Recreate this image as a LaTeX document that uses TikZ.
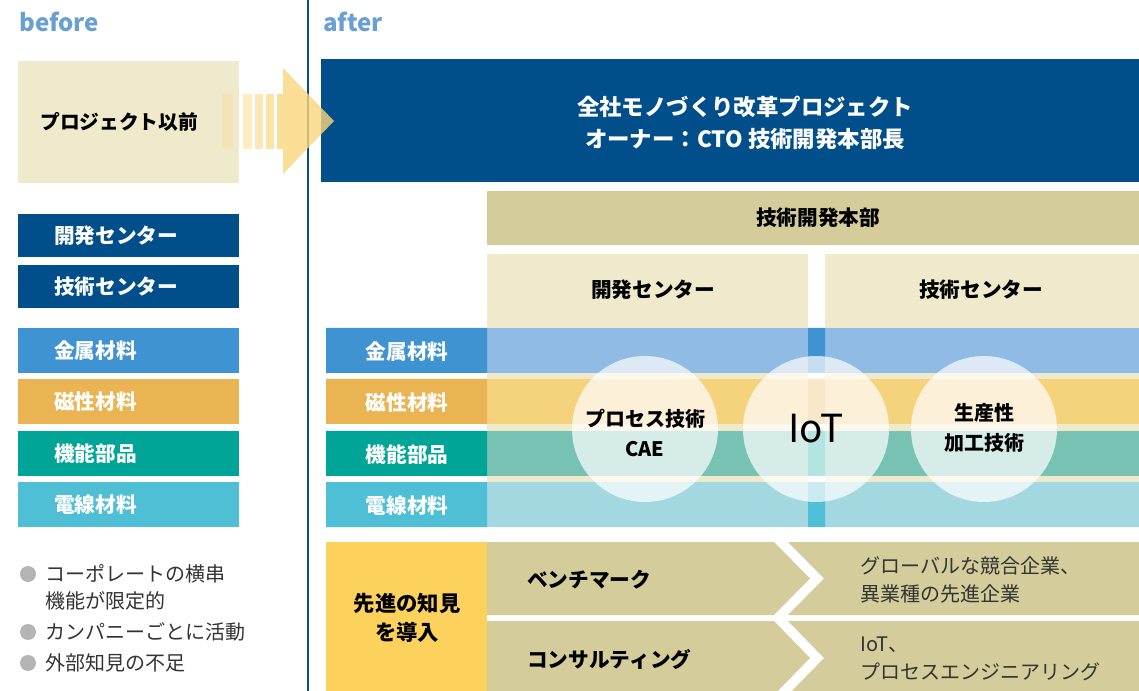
\documentclass[tikz,border=0pt]{standalone}
\usepackage{fontspec}
\setmainfont{Noto Sans CJK JP}
\definecolor{dblue}{HTML}{004F8A}
\definecolor{lblue}{HTML}{6A9FD4}
\definecolor{beige}{HTML}{F0EACC}
\definecolor{tan}{HTML}{D4CC9A}
\definecolor{yel}{HTML}{FCD25C}
\definecolor{arr}{HTML}{FAD67A}
\definecolor{metL}{HTML}{3F93D3}
\definecolor{metB}{HTML}{8FBBE4}
\definecolor{magL}{HTML}{EAB452}
\definecolor{magB}{HTML}{F5D37D}
\definecolor{funL}{HTML}{00A597}
\definecolor{funB}{HTML}{78C2B4}
\definecolor{wirL}{HTML}{4EBFD5}
\definecolor{wirB}{HTML}{A3D8E1}
\definecolor{bul}{HTML}{B4B4B4}
\definecolor{txt}{HTML}{333333}
\tikzset{
  hdr/.style={text=lblue, font=\bfseries\fontsize{18}{22}\selectfont, anchor=west, inner sep=0pt},
  lab/.style={text=white, font=\bfseries\fontsize{15.5}{20}\selectfont, inner sep=0pt},
  blk/.style={text=black, font=\bfseries\fontsize{15.5}{22}\selectfont, inner sep=0pt, align=center},
  thin/.style={text=txt, font=\fontsize{15}{21}\selectfont, inner sep=0pt, anchor=west, align=left},
  circ/.style={fill=white, fill opacity=0.7},
}
\begin{document}
\begin{tikzpicture}[x=0.75pt,y=-0.75pt]
\useasboundingbox (0,0) rectangle (1139,691);
\clip (0,0) rectangle (1139,691);
% headers
\node[hdr] (before) at (19,22) {before};
\node[hdr] (after) at (323,22) {after};
% before box
\fill[beige] (18,61) rectangle (239,183);
\node[blk, anchor=west, font=\bfseries\fontsize{14.8}{20}\selectfont] (pre) at (40,122) {プロジェクト以前};
% left column
\fill[dblue] (18,214) rectangle (239,257);
\node[lab, anchor=west] (ldev) at (54,236) {開発センター};
\fill[dblue] (18,265) rectangle (239,308);
\node[lab, anchor=west] (ltec) at (54,287) {技術センター};
\fill[metL] (18,328) rectangle (239,373);
\node[lab, anchor=west] (lmet) at (54,351) {金属材料};
\fill[magL] (18,379) rectangle (239,424);
\node[lab, anchor=west] (lmag) at (54,402) {磁性材料};
\fill[funL] (18,431) rectangle (239,476);
\node[lab, anchor=west] (lfun) at (54,454) {機能部品};
\fill[wirL] (18,482) rectangle (239,527);
\node[lab, anchor=west] (lwir) at (54,505) {電線材料};
% bullets
\fill[bul] (28,574) circle (6pt);
\node[thin] (b1) at (45,574) {コーポレートの横串};
\node[thin] (b1b) at (45,601) {機能が限定的};
\fill[bul] (28,632) circle (6pt);
\node[thin] (b2) at (45,632) {カンパニーごとに活動};
\fill[bul] (28,663) circle (6pt);
\node[thin] (b3) at (45,663) {外部知見の不足};
% divider
\draw[dblue, line width=1.6pt] (308,0) -- (308,691);
% top blue box
\fill[dblue] (321,59) rectangle (1139,182);
\node[text=white, font=\bfseries\fontsize{16.8}{24}\selectfont, align=center, inner sep=0pt] (proj) at (745,123) {全社モノづくり改革プロジェクト\\オーナー：CTO 技術開発本部長};
% arrow
\fill[arr, opacity=0.25] (222,94) rectangle (233,149);
\fill[arr, opacity=0.45] (243,94) rectangle (252,149);
\fill[arr, opacity=0.55] (255,94) rectangle (263,149);
\fill[arr, opacity=0.65] (266,94) rectangle (274,149);
\fill[arr, opacity=0.8] (277,94) -- (283,94) -- (283,68) -- (334,121) -- (283,174) -- (283,149) -- (277,149) -- cycle;
% HQ
\fill[tan] (487,191) rectangle (1139,245);
\node[blk] (hq) at (818,218) {技術開発本部};
\fill[beige] (487,254) rectangle (808,527);
\fill[beige] (825,254) rectangle (1139,527);
\node[blk] (dev) at (653,290) {開発センター};
\node[blk] (tec) at (981,290) {技術センター};
% rows
\fill[metB] (487,328) rectangle (1139,373);
\fill[magB] (487,379) rectangle (1139,424);
\fill[funB] (487,431) rectangle (1139,476);
\fill[wirB] (487,482) rectangle (1139,527);
\fill[metL] (326,328) rectangle (487,373) (808,328) rectangle (825,373);
\fill[magL] (326,379) rectangle (487,424) (808,379) rectangle (825,424);
\fill[funL] (326,431) rectangle (487,476) (808,431) rectangle (825,476);
\fill[wirL] (326,482) rectangle (487,527) (808,482) rectangle (825,527);
\node[lab] (amet) at (407,352) {金属材料};
\node[lab] (amag) at (407,403) {磁性材料};
\node[lab] (afun) at (407,455) {機能部品};
\node[lab] (awir) at (407,506) {電線材料};
% circles
\fill[circ] (645,429) circle (54.75pt);
\fill[circ] (816,429) circle (54.75pt);
\fill[circ] (984,429) circle (54.75pt);
\node[blk, font=\bfseries\fontsize{15}{22}\selectfont] (cae) at (645,433) {プロセス技術\\CAE};
\node[text=black, font=\fontsize{29}{32}\selectfont, inner sep=0pt] (iot) at (816,429) {IoT};
\node[blk, font=\bfseries\fontsize{15}{23}\selectfont] (prod) at (984,428) {生産性\\加工技術};
% bottom
\fill[yel] (326,542) rectangle (487,691);
\node[blk, font=\bfseries\fontsize{16}{22}\selectfont] (adv) at (407,618) {先進の知見\\を導入};
\fill[tan] (487,542) -- (774,542) -- (810,578.5) -- (774,615) -- (487,615) -- cycle;
\fill[tan] (788,542) -- (1139,542) -- (1139,615) -- (788,615) -- (824,578.5) -- cycle;
\fill[tan] (487,621) -- (774,621) -- (810,658) -- (774,695) -- (487,695) -- cycle;
\fill[tan] (788,621) -- (1139,621) -- (1139,695) -- (788,695) -- (824,658) -- cycle;
\node[blk, anchor=west] (bench) at (527,580) {ベンチマーク};
\node[blk, anchor=west] (cons) at (527,659) {コンサルティング};
\node[thin] (bench2) at (860,579.5) {グローバルな競合企業、\\異業種の先進企業};
\node[thin] (cons2) at (860,658.5) {IoT、\\プロセスエンジニアリング};
\end{tikzpicture}
\end{document}
